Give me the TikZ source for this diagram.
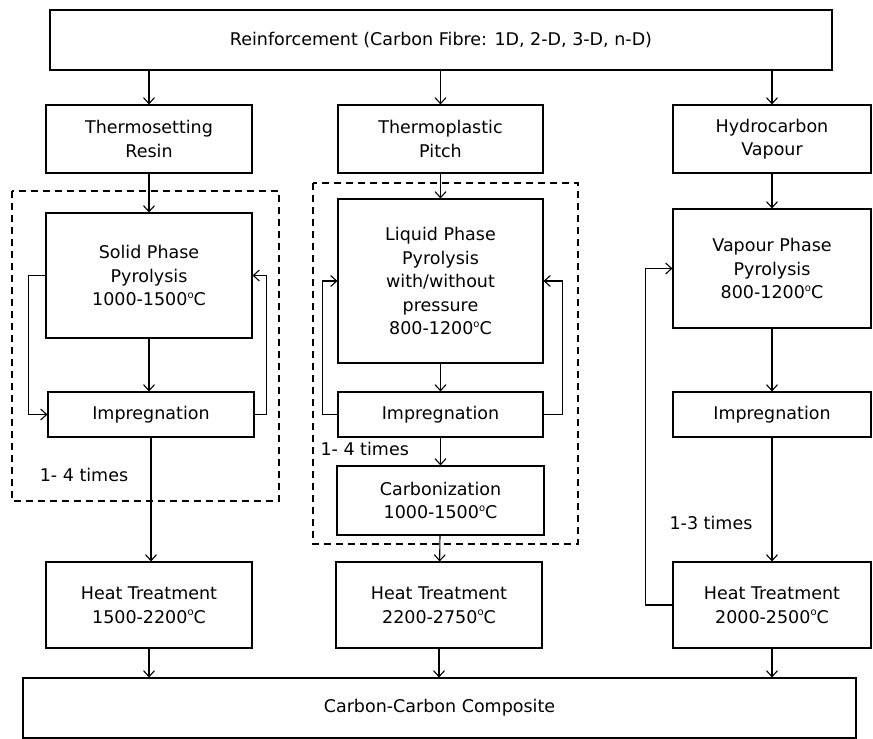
\documentclass[tikz,border=0pt]{standalone}
\usepackage{fontspec}
\usetikzlibrary{arrows.meta}
\setmainfont{DejaVu Sans}
\newcommand{\degC}{\raisebox{0.75ex}{\fontsize{10}{10}\selectfont o}C}
\begin{document}
\begin{tikzpicture}[x=1pt, y=-1pt, line width=1.1pt,
    >={Straight Barb[length=6pt, width=11pt]},
    font=\fontsize{17.5}{23.5}\selectfont,
    box/.style={draw, align=center, inner sep=0pt}]
    \useasboundingbox (0, 0) rectangle (873, 739);
    % top and bottom
    \node [box, minimum width=782, minimum height=60] (fibre) at (441, 40) {Reinforcement (Carbon Fibre: 1D, 2-D, 3-D, n-D)};
    \node [box, minimum width=833, minimum height=60] (cc) at (439.5, 708) {Carbon-Carbon Composite};
    % thermosetting resin route
    \node [box, minimum width=206, minimum height=68] (resin) at (149, 139) {Thermosetting\\Resin};
    \node [box, minimum width=206, minimum height=125] (solid) at (149, 275.5) {Solid Phase\\Pyrolysis\\1000-1500\degC};
    \node [box, minimum width=206, minimum height=45] (imp1) at (151, 414.5) {Impregnation};
    \node [box, minimum width=206, minimum height=86] (ht1) at (149, 605) {Heat Treatment\\1500-2200\degC};
    \node (rep1) at (84, 475) {1- 4 times};
    % thermoplastic pitch route
    \node [box, minimum width=205, minimum height=68] (pitch) at (440.5, 139) {Thermoplastic\\Pitch};
    \node [box, minimum width=205, minimum height=164] (liquid) at (440.5, 281) {Liquid Phase\\Pyrolysis\\with/without\\pressure\\800-1200\degC};
    \node [box, minimum width=205, minimum height=45] (imp2) at (440.5, 414.5) {Impregnation};
    \node [box, minimum width=207, minimum height=69] (carb) at (440.5, 500.5) {Carbonization\\1000-1500\degC};
    \node [box, minimum width=206, minimum height=86] (ht2) at (439, 605) {Heat Treatment\\2200-2750\degC};
    \node [anchor=west, inner sep=0pt] (rep2) at (320, 449) {1- 4 times};
    % hydrocarbon vapour route
    \node [box, minimum width=198, minimum height=68] (hydro) at (772, 139) {Hydrocarbon\\Vapour};
    \node [box, minimum width=198, minimum height=119] (vapour) at (772, 268.5) {Vapour Phase\\Pyrolysis\\800-1200\degC};
    \node [box, minimum width=198, minimum height=45] (imp3) at (772, 414.5) {Impregnation};
    \node [box, minimum width=198, minimum height=86] (ht3) at (772, 605) {Heat Treatment\\2000-2500\degC};
    \node (rep3) at (711, 523) {1-3 times};
    % repeat frames
    \draw [dashed, dash pattern=on 7pt off 5pt] (12, 191) rectangle (279, 501);
    \draw [dashed, dash pattern=on 7pt off 5pt] (313, 183) rectangle (578, 544);
    % arrows down
    \draw [->] (fibre.south -| resin) -- (resin);
    \draw [->] (fibre.south -| pitch) -- (pitch);
    \draw [->] (fibre.south -| hydro) -- (hydro);
    \draw [->] (resin) -- (solid);
    \draw [->] (solid) -- (solid |- imp1.north);
    \draw [->] (imp1) -- (imp1 |- ht1.north);
    \draw [->] (ht1) -- (ht1 |- cc.north);
    \draw [->] (pitch) -- (liquid);
    \draw [->] (liquid) -- (imp2);
    \draw [->] (imp2) -- (carb);
    \draw [->] (carb) -- (ht2);
    \draw [->] (ht2) -- (ht2 |- cc.north);
    \draw [->] (hydro) -- (vapour);
    \draw [->] (vapour) -- (imp3);
    \draw [->] (imp3) -- (ht3);
    \draw [->] (ht3) -- (ht3 |- cc.north);
    % loops
    \draw [->] (solid.west) -- ++(-17, 0) |- (imp1.west);
    \draw [->] (imp1.east) -- ++(12, 0) |- (solid.east);
    \draw [->] (imp2.west) -- ++(-15, 0) |- (liquid.west);
    \draw [->] (imp2.east) -- ++(19, 0) |- (liquid.east);
    \draw [->] (ht3.west) -- ++(-27, 0) |- (vapour.west);
\end{tikzpicture}
\end{document}
